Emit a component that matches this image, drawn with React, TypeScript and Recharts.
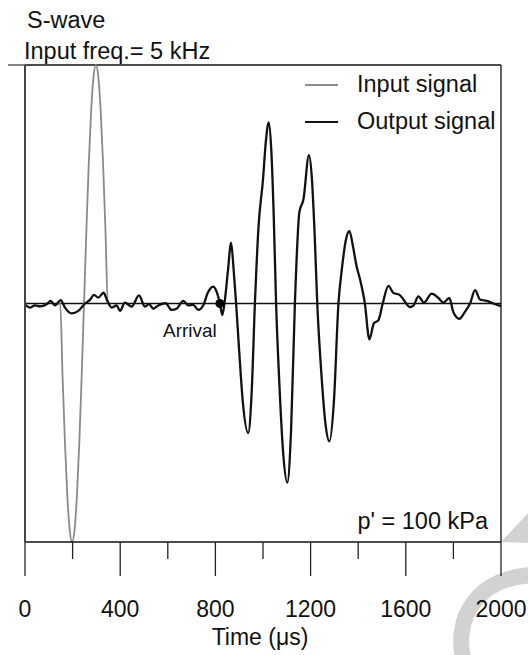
import React from 'react';
import { LineChart, Line, XAxis, YAxis, ReferenceLine, ReferenceDot, Legend } from 'recharts';

const FONT = 'Arial, "Liberation Sans", Helvetica, sans-serif';

// time axis (microseconds)
const timeTicks = [0, 200, 400, 600, 800, 1000, 1200, 1400, 1600, 1800, 2000];

// input signal: one 5 kHz cycle (flat part sits under the zero line)
const inputTime = [138, 148, 158, 168, 178, 188, 198, 208, 218, 228, 238, 248, 258, 268, 278, 288, 298, 308, 318, 328, 338, 348, 358];
const inputValue = [0, 0, -0.309, -0.588, -0.809, -0.951, -1, -0.951, -0.809, -0.588, -0.309, 0, 0.309, 0.588, 0.809, 0.951, 1, 0.951, 0.809, 0.588, 0.309, 0, 0];

// output signal
const outputTime = [
  0, 21, 42, 63, 91, 108, 126, 150, 168, 196, 224, 252, 273, 290, 308, 330, 346, 364, 385, 399,
  420, 448, 479, 504, 521, 539, 560, 591, 616, 637, 665, 686, 707, 728, 749, 767, 791, 805, 819, 829,
  838, 852, 866, 876, 887, 900, 915, 938, 952, 966, 981, 1000, 1012, 1024, 1035, 1045, 1055, 1068, 1085, 1102,
  1118, 1134, 1153, 1170, 1193, 1205, 1217, 1228, 1245, 1262, 1279, 1298, 1317, 1332, 1348, 1363, 1378, 1393, 1408, 1428,
  1447, 1466, 1485, 1503, 1527, 1548, 1573, 1590, 1618, 1632, 1653, 1676, 1709, 1737, 1758, 1783, 1800, 1825, 1849, 1870,
  1891, 1912, 1940, 1968, 2000,
];
const outputValue = [
  -0.005, -0.017, -0.008, -0.012, -0.003, 0.011, -0.008, 0.014, -0.017, -0.041, -0.031, 0, 0.015, 0.036, 0.025, 0.045, 0.011, -0.017, -0.008, -0.031,
  0.004, -0.013, 0.034, -0.013, -0.003, -0.022, -0.008, 0.001, -0.027, -0.022, 0.011, -0.008, -0.006, -0.027, -0.008, 0.043, 0.071, 0.05, 0, -0.048,
  0, 0.13, 0.255, 0.15, 0, -0.2, -0.41, -0.543, -0.38, 0, 0.32, 0.52, 0.68, 0.759, 0.64, 0.37, 0, -0.32, -0.63, -0.751,
  -0.53, 0, 0.384, 0.437, 0.622, 0.53, 0.29, 0, -0.29, -0.5, -0.578, -0.41, 0, 0.15, 0.265, 0.304, 0.24, 0.157, 0.1, 0,
  -0.15, -0.083, -0.07, 0, 0.074, 0.044, 0.037, 0.017, -0.015, -0.009, 0.03, 0.004, 0.041, 0.023, 0.004, 0.023, -0.037, -0.064, -0.034, 0,
  0.056, 0.017, 0.011, 0, -0.011,
];

const arrivalTime = 819;

const inputData = inputTime.map((t, i) => ({ t, v: inputValue[i] }));
const outputData = outputTime.map((t, i) => ({ t, v: outputValue[i] }));

const TimeTick = (props: any) => {
  const { x, y, payload } = props;
  const major = payload.value % 400 === 0;
  return (
    <g>
      <line x1={x} x2={x} y1={y} y2={y + (major ? 34 : 17)} stroke="#222" strokeWidth={1.3} />
      {major && (
        <text x={x} y={y + 75} textAnchor="middle" fontSize={23} fontFamily={FONT} fill="#111">
          {payload.value}
        </text>
      )}
    </g>
  );
};

const renderLegend = (props: any) => (
  <div style={{ fontFamily: FONT, fontSize: 23.5, color: '#111' }}>
    {props.payload.map((e: any) => (
      <div key={e.value} style={{ display: 'flex', alignItems: 'center', height: 37, lineHeight: '37px', whiteSpace: 'nowrap' }}>
        <span style={{ width: 33, height: 0, borderTop: `2px solid ${e.color}`, marginRight: 19 }} />
        <span>{e.value}</span>
      </div>
    ))}
  </div>
);

export default function App() {
  return (
    <div style={{ position: 'absolute', left: 0, top: 0, width: 528, height: 655, background: '#fff' }}>
      <LineChart width={528} height={655} margin={{ top: 65, right: 27, bottom: 0, left: 0 }}>
        {/* faint scan watermark in the corner */}
        <path d="M 464 662 C 452 618, 478 574, 540 575" fill="none" stroke="#d2d2d2" strokeWidth={16} />
        <path d="M 501 542 L 528 513 L 528 543 Z" fill="#d2d2d2" />

        <XAxis
          type="number"
          dataKey="t"
          domain={[0, 2000]}
          ticks={timeTicks}
          interval={0}
          height={113}
          tickSize={0}
          tickMargin={0}
          tickLine={false}
          tick={<TimeTick />}
          axisLine={{ stroke: '#111', strokeWidth: 1.5 }}
        />
        <YAxis
          type="number"
          domain={[-1, 1]}
          ticks={[1]}
          width={25}
          tickSize={17}
          tick={() => <g />}
          tickLine={{ stroke: '#444', strokeWidth: 1.3 }}
          axisLine={{ stroke: '#444', strokeWidth: 2 }}
        />
        <ReferenceLine y={1} stroke="#111" strokeWidth={1.3} />
        <ReferenceLine x={2000} stroke="#111" strokeWidth={1.3} />
        <ReferenceLine y={0} stroke="#111" strokeWidth={1.5} />

        <Line
          data={inputData}
          dataKey="v"
          name="Input signal"
          type="monotone"
          stroke="#8a8a8a"
          strokeWidth={1.8}
          dot={false}
          isAnimationActive={false}
        />
        <Line
          data={outputData}
          dataKey="v"
          name="Output signal"
          type="monotone"
          stroke="#111"
          strokeWidth={2.3}
          dot={false}
          isAnimationActive={false}
        />
        <ReferenceDot x={arrivalTime} y={0} r={4.5} fill="#000" stroke="none" />

        <Legend
          layout="horizontal"
          verticalAlign="middle"
          align="center"
          content={renderLegend}
          wrapperStyle={{ top: 66, left: 305, width: 210, height: 74 }}
        />

        <text x={27} y={27.5} fontSize={23.5} fontFamily={FONT} fill="#111">S-wave</text>
        <text x={24} y={59} fontSize={23.5} fontFamily={FONT} fill="#111">Input freq.= 5 kHz</text>
        <text x={163} y={337} fontSize={19} fontFamily={FONT} fill="#111">Arrival</text>
        <text x={488} y={529} fontSize={23.5} fontFamily={FONT} fill="#111" textAnchor="end">p' = 100 kPa</text>
        <text x={260} y={645} fontSize={23} fontFamily={FONT} fill="#111" textAnchor="middle">Time (μs)</text>
      </LineChart>
    </div>
  );
}
